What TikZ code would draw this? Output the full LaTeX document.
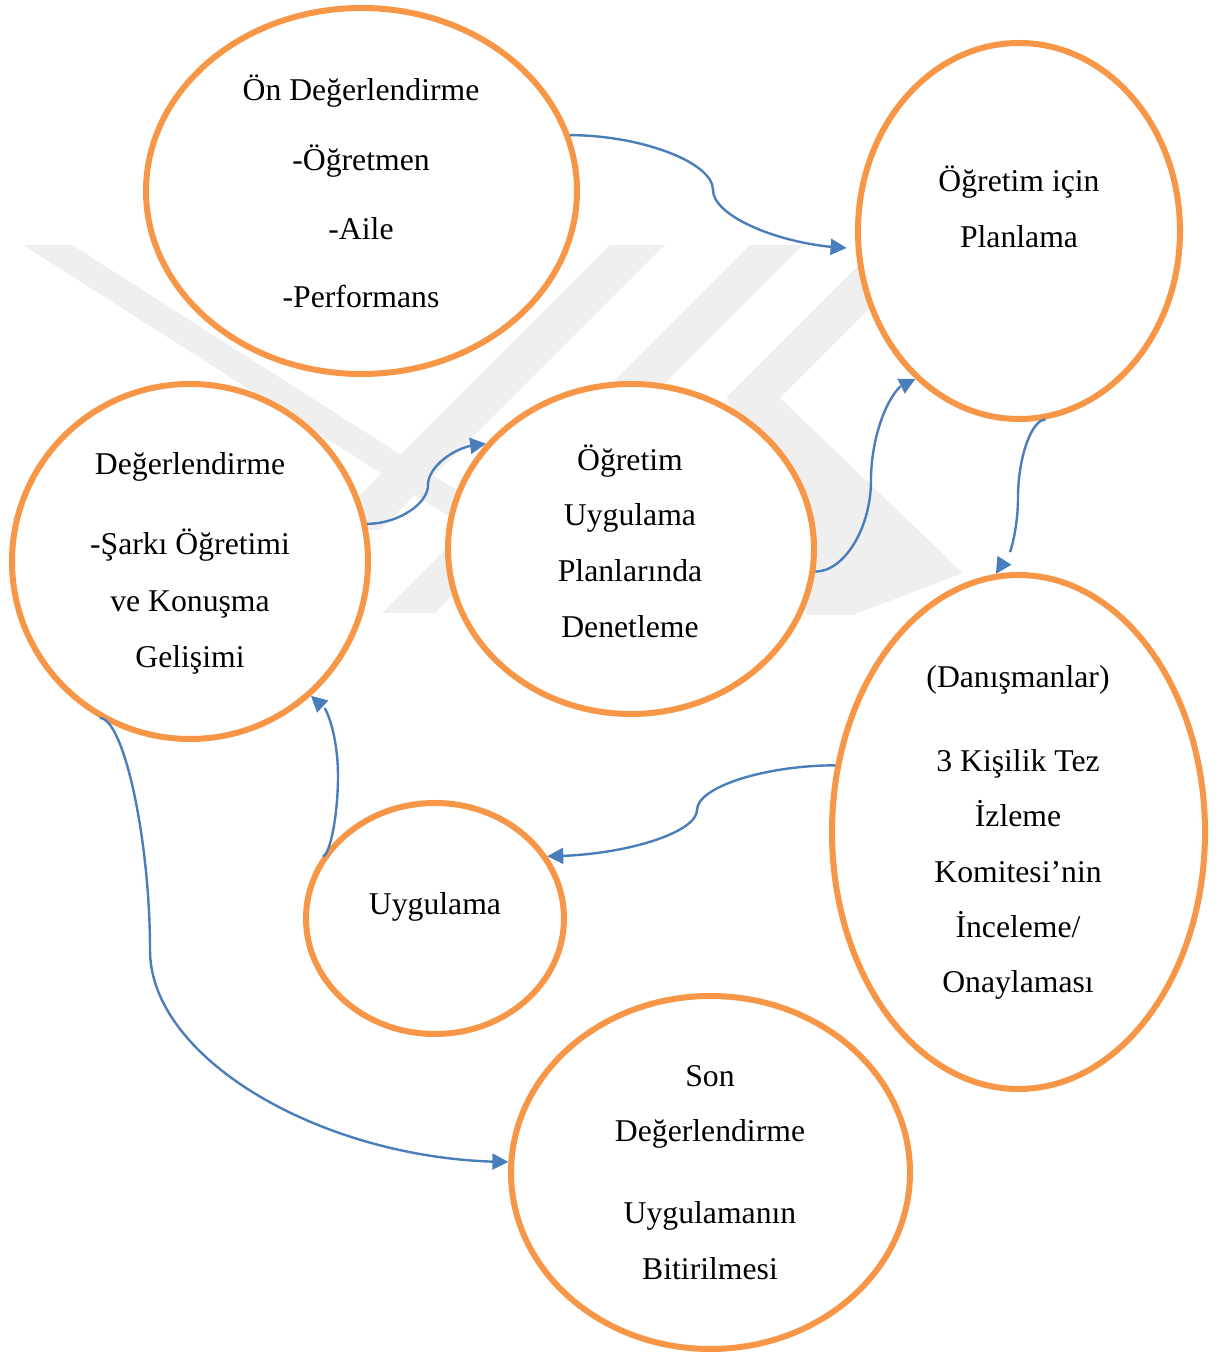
\documentclass[tikz,border=0pt]{standalone}
\usepackage{fontspec}
\setmainfont{Liberation Serif}
\usepackage{xcolor}
\usetikzlibrary{shapes.geometric, arrows.meta, bending}
\definecolor{ring}{HTML}{F79646}
\definecolor{link}{HTML}{4A7EBB}
\definecolor{wmgray}{HTML}{EFEFEF}

\begin{document}
\begin{tikzpicture}[x=1pt, y=1pt,
  stage/.style={ellipse, draw=ring, line width=6pt, fill=white, inner sep=0pt},
  arr/.style={draw=link, line width=2.4pt, -{Triangle[length=16pt,width=16pt,flex]}},
  lbl/.style={anchor=base, inner sep=0pt, font=\fontsize{31.7}{38}\selectfont}]
\useasboundingbox (0,0) rectangle (1218,1356);

% Watermark (background)
\begin{scope}[shift={(0,1356)}, yscale=-1]
\fill[wmgray] (23,245) -- (72,245) -- (500,518) -- (451,518) -- cycle;
\fill[wmgray] (610,245) -- (665,245) -- (380,530) -- (325,530) -- cycle;
\fill[wmgray] (750,245) -- (803,245) -- (435,613) -- (382,613) -- cycle;
\fill[wmgray] (879,245) -- (933,245) -- (780,398) -- (963,573) -- (853,615) -- (807,615) -- (727,397) -- cycle;
\end{scope}

% Stages
\node[stage, minimum width=431pt, minimum height=366pt] (pre) at (361.5,1165) {};
\node[stage, minimum width=322pt, minimum height=376pt] (plan) at (1019,1125) {};
\node[stage, minimum width=356pt, minimum height=355pt] (eval) at (190,794.5) {};
\node[stage, minimum width=366pt, minimum height=330pt] (audit) at (631,807) {};
\node[stage, minimum width=373pt, minimum height=514pt] (comm) at (1018.5,524) {};
\node[stage, minimum width=258pt, minimum height=231pt] (app) at (435,437.5) {};
\node[stage, minimum width=399pt, minimum height=353pt] (final) at (710.5,183.5) {};

% Texts
\node[lbl] at (361,1255.5) {Ön Değerlendirme};
\node[lbl] at (361,1185.5) {-Öğretmen};
\node[lbl] at (361,1116.5) {-Aile};
\node[lbl] at (361,1048.5) {-Performans};

\node[lbl] at (1019,1164.5) {Öğretim için};
\node[lbl] at (1019,1108.5) {Planlama};

\node[lbl] at (190,881) {Değerlendirme};
\node[lbl] at (190,801) {-Şarkı Öğretimi};
\node[lbl] at (190,744) {ve Konuşma};
\node[lbl] at (190,688.5) {Gelişimi};

\node[lbl] at (630,885) {Öğretim};
\node[lbl] at (630,830) {Uygulama};
\node[lbl] at (630,774) {Planlarında};
\node[lbl] at (630,718.5) {Denetleme};

\node[lbl] at (1018,668) {(Danışmanlar)};
\node[lbl] at (1018,584.5) {3 Kişilik Tez};
\node[lbl] at (1018,529.5) {İzleme};
\node[lbl] at (1018,473.5) {Komitesi’nin};
\node[lbl] at (1018,418.5) {İnceleme/};
\node[lbl] at (1018,363.5) {Onaylaması};

\node[lbl] at (435,441) {Uygulama};

\node[lbl] at (710,269.5) {Son};
\node[lbl] at (710,214.5) {Değerlendirme};
\node[lbl] at (710,132.5) {Uygulamanın};
\node[lbl] at (710,76.5) {Bitirilmesi};

% Connectors
\draw[arr, shorten >=9pt] (pre.15) .. controls +(70,0) and +(0,28) .. (713,1166)
  .. controls +(0,-28) and +(-67,0) .. (plan.186);
\draw[arr] (audit.-7) .. controls +(29,0) and +(0,-48) .. (871,876)
  .. controls +(0,48) and +(-23,0) .. (plan.235);
\draw[arr] (plan.-82) .. controls +(-14,0) and +(0,39) .. (1018,859)
  .. controls +(0,-39) and +(10,0) .. (comm.95);
\draw[arr] (comm.160) .. controls +(-70,0) and +(0,23) .. (697,546)
  .. controls +(0,-23) and +(75,0) .. (app.29);
\draw[arr] (app.151) .. controls +(7,0) and +(0,-40) .. (338,580)
  .. controls +(0,40) and +(15,0) .. (eval.-48);
\draw[arr] (eval.12) .. controls +(31,0) and +(0,-19) .. (428,871)
  .. controls +(0,19) and +(-29,0) .. (audit.144);
\draw[arr] (eval.-120) .. controls +(24,0) and +(0,111) .. (150,406)
  .. controls +(0,-111) and +(-180,0) .. (final.177);
\end{tikzpicture}
\end{document}
